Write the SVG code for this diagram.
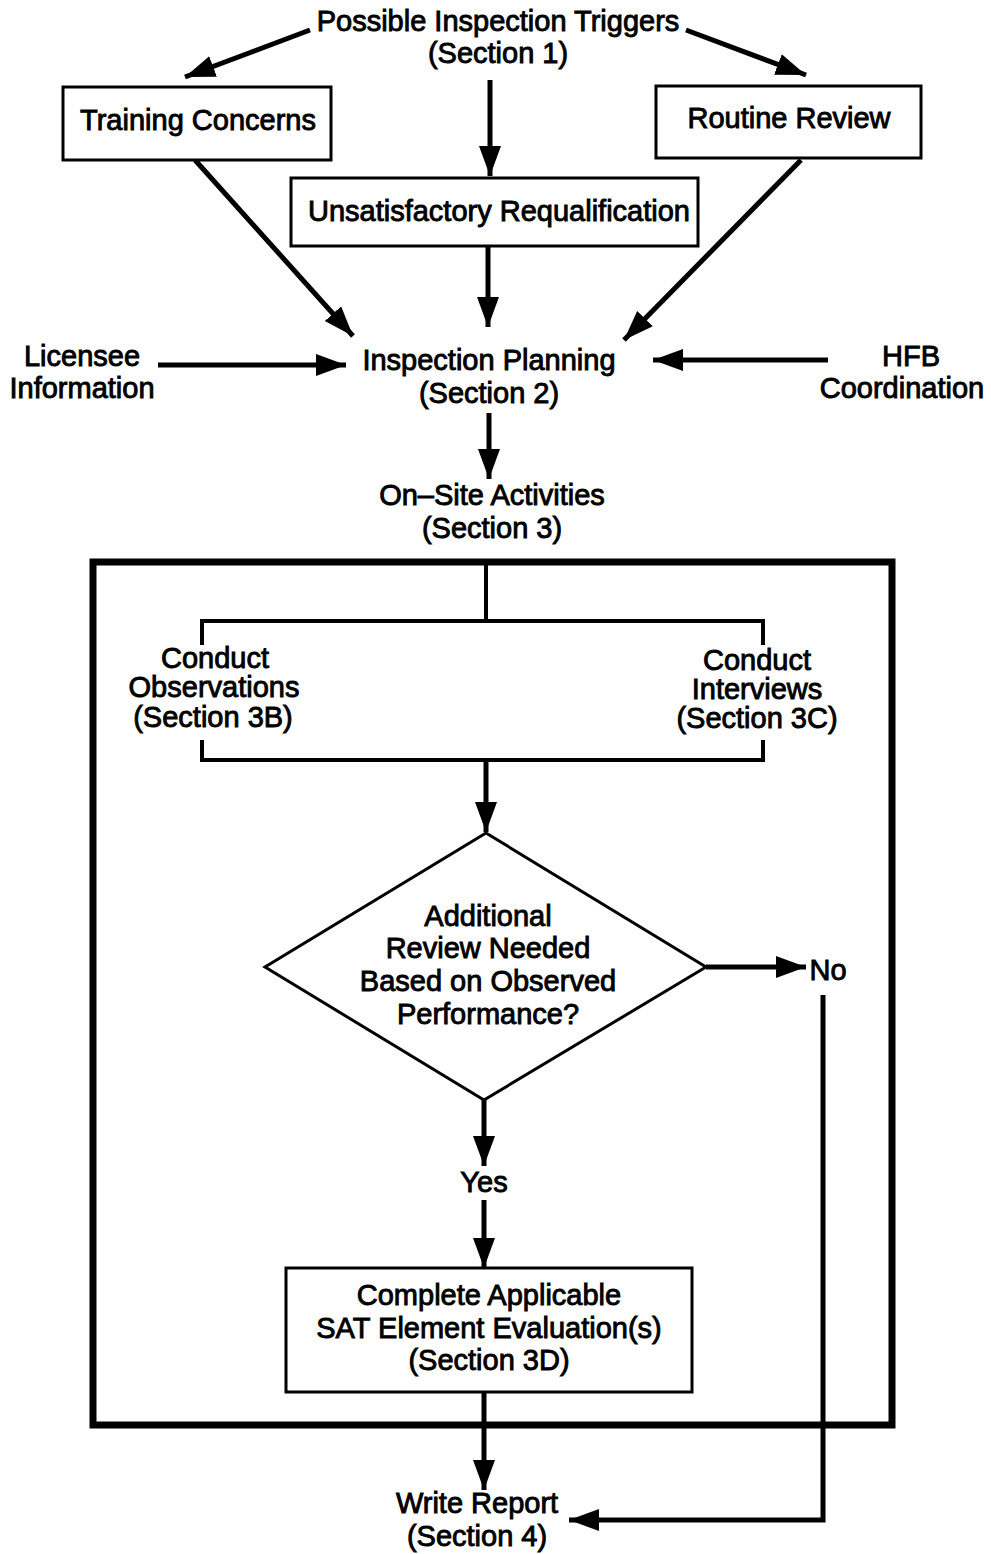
<svg xmlns="http://www.w3.org/2000/svg" width="991" height="1554" viewBox="0 0 991 1554">
<style>
text{font-family:"Liberation Sans",Arial,sans-serif;font-size:29px;fill:#000;stroke:#000;stroke-width:0.9px;text-anchor:middle}
.box{fill:#fff;stroke:#000;stroke-width:3}
.ln{fill:none;stroke:#000;stroke-width:5}
.thin{fill:none;stroke:#000;stroke-width:4}
.frame{fill:none;stroke:#000;stroke-width:7}
</style>
<defs>
<marker id="ah" markerUnits="userSpaceOnUse" markerWidth="32" markerHeight="24" refX="30" refY="11" orient="auto">
<path d="M0,0 L30,11 L0,22 z" fill="#000"/>
</marker>
</defs>
<rect width="991" height="1554" fill="#fff"/>
<g id="frame"><rect class="frame" x="93" y="562" width="799" height="863"/></g>
<g id="connectors">
<line class="ln" x1="310" y1="30" x2="185" y2="77" marker-end="url(#ah)"/>
<line class="ln" x1="686" y1="30" x2="806" y2="75" marker-end="url(#ah)"/>
<line class="ln" x1="490" y1="80" x2="490" y2="176" marker-end="url(#ah)"/>
<line class="ln" x1="195" y1="160" x2="353" y2="336" marker-end="url(#ah)"/>
<line class="ln" x1="488" y1="246" x2="488" y2="327" marker-end="url(#ah)"/>
<line class="ln" x1="801" y1="160" x2="624" y2="340" marker-end="url(#ah)"/>
<line class="ln" x1="158" y1="365" x2="346" y2="365" marker-end="url(#ah)"/>
<line class="ln" x1="828" y1="360" x2="653" y2="360" marker-end="url(#ah)"/>
<line class="ln" x1="489" y1="413" x2="489" y2="479" marker-end="url(#ah)"/>
<line class="thin" x1="486" y1="562" x2="486" y2="621"/>
<path class="thin" d="M202,645 V621 H763 V645"/>
<path class="thin" d="M202,740 V760 H763 V740"/>
<line class="ln" x1="486" y1="760" x2="486" y2="832" marker-end="url(#ah)"/>
<line class="ln" x1="706" y1="967" x2="806" y2="967" marker-end="url(#ah)"/>
<path class="ln" d="M823,995 V1520 H569" marker-end="url(#ah)"/>
<line class="ln" x1="484" y1="1100" x2="484" y2="1166" marker-end="url(#ah)"/>
<line class="ln" x1="484" y1="1200" x2="484" y2="1268" marker-end="url(#ah)"/>
<line class="ln" x1="484" y1="1392" x2="484" y2="1490" marker-end="url(#ah)"/>
</g>
<g id="triggers"><text x="498" y="31">Possible Inspection Triggers</text><text x="498" y="63">(Section 1)</text></g>
<g id="training"><rect class="box" x="63" y="87" width="268" height="73"/><text x="198" y="130">Training Concerns</text></g>
<g id="routine"><rect class="box" x="656" y="86" width="265" height="72"/><text x="789" y="128">Routine Review</text></g>
<g id="unsat"><rect class="box" x="291" y="178" width="407" height="68"/><text x="499" y="221">Unsatisfactory Requalification</text></g>
<g id="licensee"><text x="82" y="366">Licensee</text><text x="82" y="398">Information</text></g>
<g id="planning"><text x="489" y="370">Inspection Planning</text><text x="489" y="403">(Section 2)</text></g>
<g id="hfb"><text x="911" y="366">HFB</text><text x="902" y="398">Coordination</text></g>
<g id="onsite"><text x="492" y="505">On–Site Activities</text><text x="492" y="538">(Section 3)</text></g>
<g id="observations"><text x="215" y="668">Conduct</text><text x="214" y="697">Observations</text><text x="213" y="727">(Section 3B)</text></g>
<g id="interviews"><text x="757" y="670">Conduct</text><text x="757" y="699">Interviews</text><text x="757" y="728">(Section 3C)</text></g>
<g id="decision"><path class="box" d="M486,833 L706,967 L484,1100 L265,967 Z"/><text x="488" y="926">Additional</text><text x="488" y="958">Review Needed</text><text x="488" y="991">Based on Observed</text><text x="488" y="1024">Performance?</text></g>
<g id="no"><text x="828" y="980">No</text></g>
<g id="yes"><text x="484" y="1192">Yes</text></g>
<g id="complete"><rect class="box" x="286" y="1268" width="406" height="124"/><text x="489" y="1305">Complete Applicable</text><text x="489" y="1338">SAT Element Evaluation(s)</text><text x="489" y="1370">(Section 3D)</text></g>
<g id="report"><text x="477" y="1513">Write Report</text><text x="477" y="1546">(Section 4)</text></g>
</svg>
